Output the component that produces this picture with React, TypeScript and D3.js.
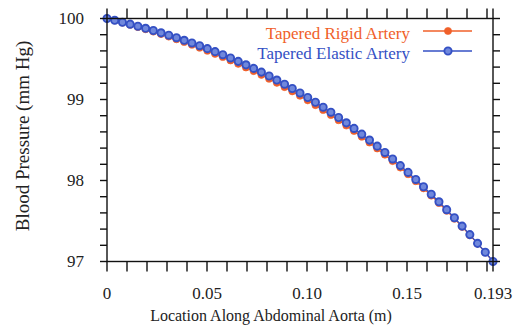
import React from "react";
import * as d3 from "d3";

// Location along the abdominal aorta (m)
const location = [
  0, 0.00386, 0.00772, 0.01158, 0.01544, 0.0193, 0.02316, 0.02702, 0.03088, 0.03474,
  0.0386, 0.04246, 0.04632, 0.05018, 0.05404, 0.0579, 0.06176, 0.06562, 0.06948, 0.07334,
  0.0772, 0.08106, 0.08492, 0.08878, 0.09264, 0.0965, 0.10036, 0.10422, 0.10808, 0.11194,
  0.1158, 0.11966, 0.12352, 0.12738, 0.13124, 0.1351, 0.13896, 0.14282, 0.14668, 0.15054,
  0.1544, 0.15826, 0.16212, 0.16598, 0.16984, 0.1737, 0.17756, 0.18142, 0.18528, 0.18914,
  0.193,
];

// Blood pressure (mm Hg), tapered rigid artery
const rigidPressure = [
  100.0, 99.976, 99.95, 99.923, 99.896, 99.868, 99.839, 99.808, 99.777, 99.744,
  99.71, 99.676, 99.64, 99.602, 99.564, 99.525, 99.483, 99.44, 99.396, 99.351,
  99.305, 99.256, 99.206, 99.154, 99.101, 99.046, 98.99, 98.931, 98.871, 98.809,
  98.745, 98.679, 98.611, 98.541, 98.469, 98.396, 98.319, 98.24, 98.16, 98.078,
  97.992, 97.904, 97.814, 97.722, 97.627, 97.529, 97.428, 97.325, 97.22, 97.112,
  97.0,
];

// Blood pressure (mm Hg), tapered elastic artery
const elasticPressure = [
  100.0, 99.978, 99.954, 99.93, 99.905, 99.879, 99.852, 99.823, 99.794, 99.763,
  99.731, 99.698, 99.664, 99.628, 99.591, 99.553, 99.513, 99.471, 99.428, 99.384,
  99.338, 99.29, 99.24, 99.189, 99.136, 99.081, 99.025, 98.966, 98.905, 98.843,
  98.778, 98.712, 98.643, 98.572, 98.499, 98.424, 98.346, 98.266, 98.184, 98.1,
  98.013, 97.923, 97.831, 97.737, 97.64, 97.54, 97.437, 97.332, 97.224, 97.114,
  97.0,
];

const seriesNames = ["Tapered Rigid Artery", "Tapered Elastic Artery"];

const xTickValues = [
  0, 0.01, 0.02, 0.03, 0.04, 0.05, 0.06, 0.07, 0.08, 0.09, 0.1, 0.11, 0.12, 0.13,
  0.14, 0.15, 0.16, 0.17, 0.18, 0.19, 0.193,
];
const xLabelValues = [0, 0.05, 0.1, 0.15, 0.193];
const xLabels = ["0", "0.05", "0.10", "0.15", "0.193"];

const yTickValues = [
  97, 97.2, 97.4, 97.6, 97.8, 98, 98.2, 98.4, 98.6, 98.8, 99, 99.2, 99.4, 99.6, 99.8, 100,
];
const yLabelValues = [97, 98, 99, 100];
const yLabels = ["97", "98", "99", "100"];

const xTitle = "Location Along Abdominal Aorta (m)";
const yTitle = "Blood Pressure (mm Hg)";

const W = 522;
const H = 336;
const plot = { left: 107, right: 493, top: 18.5, bottom: 261.5 };

const ORANGE = "#f0602a";
const BLUE = "#3450c4";
const FONT = "'Liberation Serif', 'Times New Roman', serif";

export default function App() {
  const x = d3.scaleLinear().domain([0, 0.193]).range([plot.left, plot.right]);
  const y = d3.scaleLinear().domain([97, 100]).range([plot.bottom, plot.top]);

  const line = d3
    .line<number>()
    .x((_, i) => x(location[i]))
    .y((d) => y(d));

  const series = [
    { name: seriesNames[0], values: rigidPressure, color: ORANGE, kind: "dot" },
    { name: seriesNames[1], values: elasticPressure, color: BLUE, kind: "ring" },
  ];

  const marker = (kind: string, color: string, cx: number, cy: number, key: any) =>
    kind === "dot" ? (
      <circle key={key} cx={cx} cy={cy} r={3.6} fill={color} stroke={color} strokeWidth={0.6} />
    ) : (
      <circle key={key} cx={cx} cy={cy} r={3.6} fill="#7088dc" stroke={color} strokeWidth={1.9} />
    );

  const axisStroke = { stroke: "#111", strokeWidth: 1.4, fill: "none" };

  return (
    <svg
      width={W}
      height={H}
      style={{ position: "absolute", left: 0, top: 0, background: "#fff" }}
      fontFamily={FONT}
    >
      <rect width={W} height={H} fill="#fff" />

      {/* series lines and markers */}
      {series.map((s) => (
        <g key={s.name}>
          <path d={line(s.values) || ""} fill="none" stroke={s.color} strokeWidth={1.3} />
          {s.values.map((v, i) => marker(s.kind, s.color, x(location[i]), y(v), i))}
        </g>
      ))}

      {/* frame */}
      <rect
        x={plot.left}
        y={plot.top}
        width={plot.right - plot.left}
        height={plot.bottom - plot.top}
        {...axisStroke}
      />

      {/* x ticks, bottom and top, pointing outward */}
      {xTickValues.map((t) => (
        <g key={"xt" + t} {...axisStroke}>
          <line x1={x(t)} x2={x(t)} y1={plot.bottom} y2={plot.bottom + 10} />
          <line x1={x(t)} x2={x(t)} y1={plot.top} y2={plot.top - 10} />
        </g>
      ))}

      {/* y ticks, left and right, pointing outward */}
      {yTickValues.map((t) => (
        <g key={"yt" + t} {...axisStroke}>
          <line x1={plot.left} x2={plot.left - 7} y1={y(t)} y2={y(t)} />
          <line x1={plot.right} x2={plot.right + 7} y1={y(t)} y2={y(t)} />
        </g>
      ))}

      {/* tick labels */}
      {xLabelValues.map((t, i) => (
        <text key={"xl" + t} x={x(t)} y={299} textAnchor="middle" fontSize={17} fill="#222">
          {xLabels[i]}
        </text>
      ))}
      {yLabelValues.map((t, i) => (
        <text
          key={"yl" + t}
          x={84}
          y={y(t) + 5.8}
          textAnchor="end"
          fontSize={17}
          fill="#222"
        >
          {yLabels[i]}
        </text>
      ))}

      {/* axis titles */}
      <text x={271} y={321} textAnchor="middle" fontSize={16} fill="#222">
        {xTitle}
      </text>
      <text
        transform={`translate(29,136) rotate(-90)`}
        textAnchor="middle"
        fontSize={19}
        fill="#222"
      >
        {yTitle}
      </text>

      {/* legend */}
      {series.map((s, i) => {
        const ly = 31 + i * 20;
        return (
          <g key={"lg" + s.name}>
            <text x={410} y={ly + 8} textAnchor="end" fontSize={17} fill={s.color}>
              {s.name}
            </text>
            <line x1={423} x2={472} y1={ly} y2={ly} stroke={s.color} strokeWidth={1.3} />
            {marker(s.kind, s.color, 448, ly, "m")}
          </g>
        );
      })}
    </svg>
  );
}
